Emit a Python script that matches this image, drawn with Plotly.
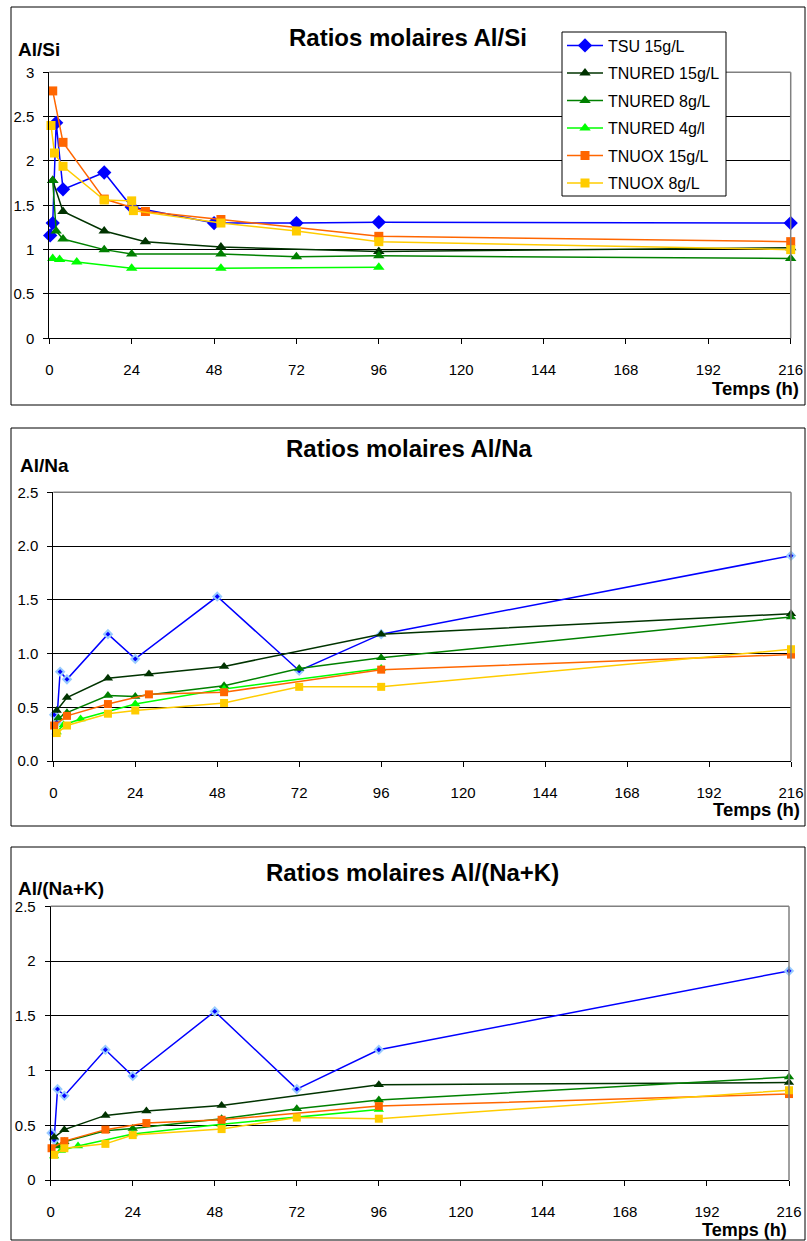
import plotly.graph_objects as go

W, H = 807, 1241

names = ["TSU 15g/L", "TNURED 15g/L", "TNURED 8g/L", "TNURED 4g/l", "TNUOX 15g/L", "TNUOX 8g/L"]
colors = ["#0000FF", "#003300", "#008000", "#00FF00", "#FF6600", "#FFCC00"]
symbols = ["diamond", "triangle-up", "triangle-up", "triangle-up", "square", "square"]

# ---- Chart 1 : Al/Si ----
si_tsu_t = [0.25, 1, 2, 4, 16, 24, 48, 72, 96, 216]
si_tsu_v = [1.16, 1.30, 2.43, 1.68, 1.87, 1.48, 1.30, 1.30, 1.31, 1.30]
si_r15_t = [1, 4, 16, 28, 50, 96, 216]
si_r15_v = [1.78, 1.43, 1.21, 1.09, 1.03, 0.98, 1.02]
si_r8_t = [1, 2, 4, 16, 24, 50, 72, 96, 216]
si_r8_v = [1.78, 1.21, 1.12, 1.00, 0.95, 0.95, 0.92, 0.93, 0.90]
si_r4_t = [1, 3, 8, 24, 50, 96]
si_r4_v = [0.90, 0.89, 0.86, 0.79, 0.79, 0.80]
si_o15_t = [1, 4, 16, 28, 50, 96, 216]
si_o15_v = [2.79, 2.21, 1.57, 1.43, 1.34, 1.15, 1.09]
si_o8_t = [0.5, 1.5, 4, 16, 24, 24.5, 50, 72, 96, 216]
si_o8_v = [2.40, 2.09, 1.94, 1.56, 1.55, 1.44, 1.30, 1.21, 1.09, 1.00]

# ---- Chart 2 : Al/Na ----
na_tsu_t = [0.25, 1, 2, 4, 16, 24, 48, 72, 96, 216]
na_tsu_v = [0.43, 0.36, 0.83, 0.76, 1.18, 0.95, 1.53, 0.84, 1.18, 1.91]
na_r15_t = [1, 4, 16, 28, 50, 96, 216]
na_r15_v = [0.47, 0.59, 0.77, 0.81, 0.88, 1.18, 1.37]
na_r8_t = [1.5, 4, 16, 24, 50, 72, 96, 216]
na_r8_v = [0.40, 0.45, 0.61, 0.60, 0.70, 0.86, 0.96, 1.34]
na_r4_t = [1, 3, 8, 24, 50, 96]
na_r4_v = [0.27, 0.335, 0.39, 0.53, 0.67, 0.86]
na_o15_t = [0.25, 4, 16, 28, 50, 96, 216]
na_o15_v = [0.33, 0.42, 0.53, 0.62, 0.64, 0.85, 0.99]
na_o8_t = [1, 4, 16, 24, 50, 72, 96, 216]
na_o8_v = [0.26, 0.33, 0.44, 0.47, 0.54, 0.69, 0.69, 1.04]

# ---- Chart 3 : Al/(Na+K) ----
nk_tsu_t = [0.25, 1, 2, 4, 16, 24, 48, 72, 96, 216]
nk_tsu_v = [0.43, 0.365, 0.83, 0.77, 1.19, 0.95, 1.54, 0.83, 1.19, 1.91]
nk_r15_t = [1, 4, 16, 28, 50, 96, 216]
nk_r15_v = [0.39, 0.46, 0.59, 0.63, 0.68, 0.87, 0.89]
nk_r8_t = [2, 4, 16, 24, 50, 72, 96, 216]
nk_r8_v = [0.31, 0.35, 0.45, 0.47, 0.56, 0.65, 0.73, 0.94]
nk_r4_t = [1, 3, 8, 24, 50, 96]
nk_r4_v = [0.22, 0.27, 0.31, 0.42, 0.51, 0.645]
nk_o15_t = [0.25, 4, 16, 28, 50, 96, 216]
nk_o15_v = [0.29, 0.355, 0.46, 0.52, 0.55, 0.675, 0.785]
nk_o8_t = [1, 4, 16, 24, 50, 72, 96, 216]
nk_o8_v = [0.23, 0.29, 0.33, 0.41, 0.465, 0.57, 0.56, 0.82]

x_ticks = [0, 24, 48, 72, 96, 120, 144, 168, 192, 216]

charts = [
    dict(series=[(si_tsu_t, si_tsu_v), (si_r15_t, si_r15_v), (si_r8_t, si_r8_v),
                 (si_r4_t, si_r4_v), (si_o15_t, si_o15_v), (si_o8_t, si_o8_v)],
         title="Ratios molaires Al/Si", ylab="Al/Si", yrange=[0, 3], fmt="",
         plot=(49.3, 790.7, 72.3, 338.3), frame=(11, 805, 7, 405),
         title_xy=(408, 37), ylab_xy=(16, 49), temps_xy=(800, 389), temps_size=18.5,
         legend=True, big=True),
    dict(series=[(na_tsu_t, na_tsu_v), (na_r15_t, na_r15_v), (na_r8_t, na_r8_v),
                 (na_r4_t, na_r4_v), (na_o15_t, na_o15_v), (na_o8_t, na_o8_v)],
         title="Ratios molaires Al/Na", ylab="Al/Na", yrange=[0, 2.5], fmt=".1f",
         plot=(53.3, 791, 492.3, 761), frame=(11, 805, 428, 826),
         title_xy=(409, 448), ylab_xy=(18, 466), temps_xy=(801, 809), temps_size=18.5,
         legend=False, big=False),
    dict(series=[(nk_tsu_t, nk_tsu_v), (nk_r15_t, nk_r15_v), (nk_r8_t, nk_r8_v),
                 (nk_r4_t, nk_r4_v), (nk_o15_t, nk_o15_v), (nk_o8_t, nk_o8_v)],
         title="Ratios molaires Al/(Na+K)", ylab="Al/(Na+K)", yrange=[0, 2.5], fmt="",
         plot=(50.7, 789, 906.3, 1180), frame=(11, 805, 847, 1240),
         title_xy=(413, 872), ylab_xy=(16, 888), temps_xy=(788, 1229.5), temps_size=18,
         legend=False, big=False),
]

fig = go.Figure()
shapes = []
annotations = []

FONT = "Liberation Sans, Arial, sans-serif"

for i, ch in enumerate(charts):
    k = "" if i == 0 else str(i + 1)
    xa, ya = "x" + k, "y" + k
    x0, x1, y0, y1 = ch["plot"]
    for j, (t, v) in enumerate(ch["series"]):
        sym = symbols[j]
        if sym == "diamond":
            if ch["big"]:
                mk = dict(symbol=sym, size=11, color=colors[j], line=dict(width=0))
            else:
                mk = dict(symbol=sym, size=6, color=colors[j], line=dict(width=2, color="#99CCFF"))
        elif sym == "square":
            mk = dict(symbol=sym, size=9 if ch["big"] else 8, color=colors[j], line=dict(width=0))
        else:
            mk = dict(symbol=sym, size=10 if ch["big"] else 9, color=colors[j], line=dict(width=0))
        fig.add_trace(go.Scatter(
            x=t, y=v, mode="lines+markers", name=names[j],
            line=dict(color=colors[j], width=1.5), marker=mk, cliponaxis=False,
            xaxis=xa, yaxis=ya, showlegend=ch["legend"], legendgroup=names[j] + str(i),
        ))
    xdom = [x0 / W, x1 / W]
    ydom = [1 - y1 / H, 1 - y0 / H]
    fig.layout["xaxis" + k] = dict(
        domain=xdom, anchor=ya, range=[0, 216], tickvals=x_ticks, showgrid=False,
        showline=True, linecolor="black", linewidth=1, ticks="outside", ticklen=5,
        tickcolor="black", zeroline=False, tickfont=dict(family=FONT, size=15, color="black"),
        ticklabelstandoff=13, automargin=False,
    )
    fig.layout["yaxis" + k] = dict(
        domain=ydom, anchor=xa, range=ch["yrange"], dtick=0.5, tickformat=ch["fmt"],
        showgrid=True, gridcolor="black", gridwidth=1, showline=True, linecolor="black",
        linewidth=1, ticks="outside", ticklen=5, tickcolor="black", zeroline=False,
        tickfont=dict(family=FONT, size=15, color="black"), ticklabelstandoff=6,
        automargin=False,
    )
    # plot area top & right border (grey)
    shapes.append(dict(type="line", xref=xa + " domain", yref=ya + " domain",
                       x0=0, x1=1, y0=1, y1=1, line=dict(color="#808080", width=1.5), layer="above"))
    shapes.append(dict(type="line", xref=xa + " domain", yref=ya + " domain",
                       x0=1, x1=1, y0=0, y1=1, line=dict(color="#808080", width=1.5), layer="above"))
    # outer chart frame
    fx0, fx1, fy0, fy1 = ch["frame"]
    shapes.append(dict(type="rect", xref="paper", yref="paper",
                       x0=fx0 / W, x1=fx1 / W, y0=1 - fy1 / H, y1=1 - fy0 / H,
                       line=dict(color="black", width=1), layer="below"))
    tx, ty = ch["title_xy"]
    annotations.append(dict(text="<b>" + ch["title"] + "</b>", x=tx / W, y=1 - ty / H,
                            xref="paper", yref="paper", showarrow=False, xanchor="center",
                            yanchor="middle", font=dict(family=FONT, size=24, color="black")))
    lx, ly = ch["ylab_xy"]
    annotations.append(dict(text="<b>" + ch["ylab"] + "</b>", x=lx / W, y=1 - ly / H,
                            xref="paper", yref="paper", showarrow=False, xanchor="left",
                            yanchor="middle", font=dict(family=FONT, size=19, color="black")))
    px_, py_ = ch["temps_xy"]
    annotations.append(dict(text="<b>Temps (h)</b>", x=px_ / W, y=1 - py_ / H,
                            xref="paper", yref="paper", showarrow=False, xanchor="right",
                            yanchor="middle", borderpad=0,
                            font=dict(family=FONT, size=ch["temps_size"], color="black")))

# legend box (white, black border) drawn as a shape; legend entries sit on it
shapes.append(dict(type="rect", xref="paper", yref="paper",
                   x0=562 / W, x1=726 / W, y0=1 - 196 / H, y1=1 - 32 / H,
                   line=dict(color="black", width=1), fillcolor="white", layer="above"))

fig.update_layout(
    width=W, height=H, margin=dict(l=0, r=0, t=0, b=0, autoexpand=False),
    paper_bgcolor="white", plot_bgcolor="white",
    shapes=shapes, annotations=annotations,
    legend=dict(x=562 / W, y=1 - 28.5 / H, xanchor="left", yanchor="top",
                borderwidth=0, bgcolor="rgba(0,0,0,0)",
                font=dict(family=FONT, size=16, color="black"), tracegroupgap=3.7,
                itemwidth=36),
    showlegend=True,
)

fig.write_html("out.html")
